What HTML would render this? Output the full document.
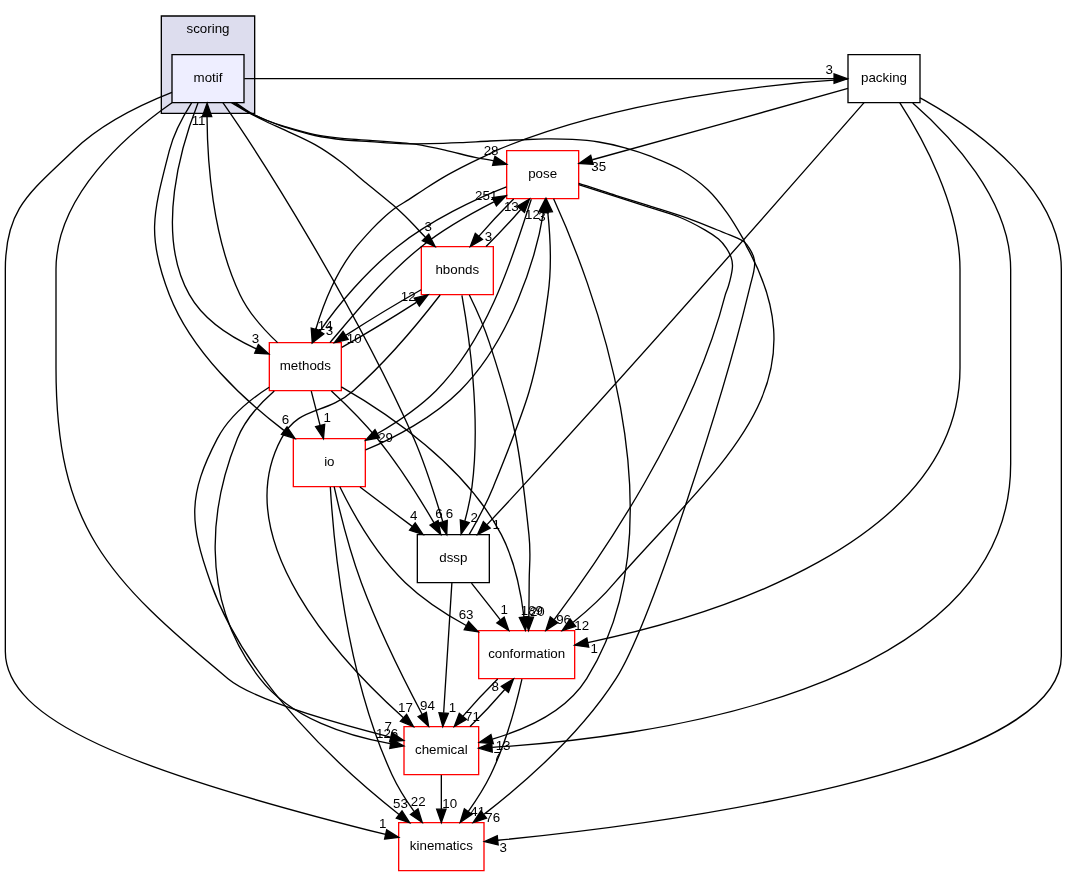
<!DOCTYPE html>
<html><head><meta charset="utf-8"><title>motif</title>
<style>
html,body{margin:0;padding:0;background:#fff;}
svg{display:block;will-change:transform;}
text{font-family:"Liberation Sans",sans-serif;font-size:10px;fill:#000;}
</style></head><body>
<svg width="1067" height="876" viewBox="0 0 800.25 657">
<rect x="0" y="0" width="801" height="658" fill="#fff"/>
<g transform="translate(4 653)">
<polygon fill="#ddddee" stroke="#000" points="117,-568 117,-641 187,-641 187,-568 117,-568"/>
<text text-anchor="middle" x="152" y="-628.2">scoring</text>
<polygon fill="#eeeeff" stroke="black" points="179,-612 125,-612 125,-576 179,-576 179,-612"/>
<text text-anchor="middle" x="152" y="-591.5">motif</text>
<polygon fill="none" stroke="red" points="427,-180 355,-180 355,-144 427,-144 427,-180"/>
<text text-anchor="middle" x="391" y="-159.5">conformation</text>
<path fill="none" stroke="#000" d="M172.62,-576C176.37,-573.47 179.94,-570.63 183.88,-568.4 187.84,-566.16 192.05,-564.38 196.25,-562.62 200.68,-560.78 205.17,-559.03 209.75,-557.6 217.18,-555.28 224.64,-553 232.25,-551.38 239.67,-549.79 247.21,-548.84 254.75,-548 260.97,-547.31 267.25,-547.21 273.5,-546.8 281,-546.31 288.49,-545.56 296,-545.3 303.5,-545.04 311,-545.11 318.5,-545.23 326,-545.34 333.5,-545.64 341,-545.98 348.5,-546.31 356,-546.89 363.5,-547.25 371,-547.61 378.5,-547.87 386,-548.15 392.5,-548.39 399,-548.78 405.5,-548.83 412.13,-548.88 418.76,-548.84 425.38,-548.45 431.95,-548.06 438.53,-547.54 445.03,-546.5 451.67,-545.44 458.26,-543.94 464.75,-542.15 471.35,-540.33 477.88,-538.22 484.25,-535.7 491.95,-532.66 499.76,-529.69 506.9,-525.5 514.04,-521.31 520.81,-516.38 526.85,-510.73 532.45,-505.48 537.07,-499.25 541.55,-493.02 545.94,-486.92 549.64,-480.34 553.4,-473.82 554.46,-471.98 554.96,-469.86 556,-468 614.7,-362.95 536.47,-306.36 457,-216 448,-205.18 436.57,-194.88 425.91,-186.28"/>
<polygon fill="#000" stroke="#000" points="427.76,-183.29 417.67,-180.06 423.54,-188.88 427.76,-183.29"/>
<text text-anchor="middle" x="432.34" y="-180.69">12</text>
<polygon fill="none" stroke="red" points="355,-108 299,-108 299,-72 355,-72 355,-108"/>
<text text-anchor="middle" x="327" y="-87.5">chemical</text>
<path fill="none" stroke="#000" d="M124.98,-575.96C91.27,-552.37 38,-506.33 38,-451 38,-451 38,-451 38,-377 38,-258.63 75.9,-219.57 167,-144 185.74,-128.46 247.72,-110.73 288.8,-100.22"/>
<polygon fill="#000" stroke="#000" points="289.92,-103.55 298.76,-97.71 288.21,-96.76 289.92,-103.55"/>
<text text-anchor="middle" x="287.13" y="-104.68">7</text>
<polygon fill="none" stroke="black" points="686,-612 632,-612 632,-576 686,-576 686,-612"/>
<text text-anchor="middle" x="659" y="-591.5">packing</text>
<path fill="none" stroke="#000" d="M179.23,-594C325.64,-594 472.05,-594 621.95,-594"/>
<polygon fill="#000" stroke="#000" points="621.55,-597.5 631.55,-594 621.55,-590.5 621.55,-597.5"/>
<text text-anchor="middle" x="617.95" y="-597.84">3</text>
<polygon fill="none" stroke="red" points="430,-540 376,-540 376,-504 430,-504 430,-540"/>
<text text-anchor="middle" x="403" y="-519.5">pose</text>
<path fill="none" stroke="#000" d="M171.12,-576C175.12,-573.52 178.97,-570.77 183.12,-568.55 187.11,-566.42 191.29,-564.66 195.5,-563 200.18,-561.16 204.93,-559.49 209.75,-558.05 217.19,-555.83 224.64,-553.58 232.25,-552.05 239.67,-550.55 247.22,-549.77 254.75,-548.98 260.98,-548.32 267.25,-548.14 273.5,-547.7 281,-547.17 288.51,-546.68 296,-546.05 299.76,-545.73 303.53,-545.48 307.25,-544.85 314.79,-543.58 322.28,-541.99 329.75,-540.35 337.28,-538.69 344.72,-536.6 352.25,-534.95 356.91,-533.93 361.72,-533.54 366.33,-532.32"/>
<polygon fill="#000" stroke="#000" points="365.44,-528.94 376,-529.77 367.22,-535.71 365.44,-528.94"/>
<text text-anchor="middle" x="364.3" y="-537.12">28</text>
<polygon fill="none" stroke="black" points="363,-252 309,-252 309,-216 363,-216 363,-252"/>
<text text-anchor="middle" x="336" y="-231.5">dssp</text>
<path fill="none" stroke="#000" d="M163.16,-575.95C192.43,-534.27 262.51,-423.31 306.5,-324 315.32,-303.7 322.7,-279.8 328.05,-261.88"/>
<polygon fill="#000" stroke="#000" points="331.46,-262.68 331.06,-252.09 324.77,-260.61 331.46,-262.68"/>
<text text-anchor="middle" x="333.12" y="-264.45">6</text>
<polygon fill="none" stroke="red" points="366,-468 312,-468 312,-432 366,-432 366,-468"/>
<text text-anchor="middle" x="339" y="-447.5">hbonds</text>
<path fill="none" stroke="#000" d="M169.62,-576C174,-573.44 178.3,-570.75 182.75,-568.33 186.93,-566.04 191.21,-563.94 195.5,-561.88 200.21,-559.61 205.03,-557.59 209.75,-555.35 217.28,-551.79 225,-548.58 232.25,-544.48 238.78,-540.78 244.99,-536.52 251,-532.02 257.81,-526.93 264.09,-521.16 270.65,-515.75 277.21,-510.34 283.95,-505.13 290.38,-499.55 294.9,-495.62 299.24,-491.47 303.5,-487.25 307.51,-483.27 311.1,-478.89 315.15,-474.96"/>
<polygon fill="#000" stroke="#000" points="312.71,-472.45 322.33,-468 317.58,-477.47 312.71,-472.45"/>
<text text-anchor="middle" x="317.23" y="-479.6">3</text>
<polygon fill="none" stroke="red" points="359,-36 295,-36 295,0 359,0 359,-36"/>
<text text-anchor="middle" x="327" y="-15.5">kinematics</text>
<path fill="none" stroke="#000" d="M124.95,-583.69C102.98,-575.07 72.25,-560.47 51,-540 18.17,-508.37 0,-496.59 0,-451 0,-451 0,-451 0,-164.3 0,-113.25 91.97,-75.29 285.25,-27.15"/>
<polygon fill="#000" stroke="#000" points="284.47,-23.74 295,-24.95 286.02,-30.57 284.47,-23.74"/>
<text text-anchor="middle" x="283.02" y="-31.78">1</text>
<polygon fill="none" stroke="red" points="270,-324 216,-324 216,-288 270,-288 270,-324"/>
<text text-anchor="middle" x="243" y="-303.5">io</text>
<path fill="none" stroke="#000" d="M139.69,-575.78C133.35,-565.84 126.27,-552.8 123,-540 111.11,-493.5 105.6,-476.73 123,-432 139.77,-388.88 179.71,-352.45 208.92,-330.24"/>
<polygon fill="#000" stroke="#000" points="211.28,-332.85 217.23,-324.08 207.11,-327.22 211.28,-332.85"/>
<text text-anchor="middle" x="210.08" y="-334.77">6</text>
<polygon fill="none" stroke="red" points="252,-396 198,-396 198,-360 252,-360 252,-396"/>
<text text-anchor="middle" x="225" y="-375.5">methods</text>
<path fill="none" stroke="#000" d="M144.48,-575.68C132.25,-544.65 111.89,-478.48 138,-432 148.77,-412.83 169.6,-399.78 188.18,-391.42"/>
<polygon fill="#000" stroke="#000" points="189.74,-394.56 197.62,-387.48 187.04,-388.1 189.74,-394.56"/>
<text text-anchor="middle" x="187.52" y="-396.07">3</text>
<path fill="none" stroke="#000" d="M369.26,-143.7C360.73,-135.3 351.18,-125.07 343.24,-115.86"/>
<polygon fill="#000" stroke="#000" points="345.85,-113.52 336.74,-108.1 340.48,-118.02 345.85,-113.52"/>
<text text-anchor="middle" x="350.33" y="-111.96">71</text>
<path fill="none" stroke="#000" d="M387.45,-143.67C383.3,-125.28 375.5,-95.68 364,-72 359.42,-62.56 353.24,-52.94 347.26,-44.54"/>
<polygon fill="#000" stroke="#000" points="349.91,-42.25 341.16,-36.28 344.28,-46.4 349.91,-42.25"/>
<text text-anchor="middle" x="354.33" y="-40.95">41</text>
<path fill="none" stroke="#000" d="M348.53,-108.1C357.06,-116.47 366.61,-126.69 374.57,-135.92"/>
<polygon fill="#000" stroke="#000" points="371.99,-138.28 381.1,-143.7 377.35,-133.79 371.99,-138.28"/>
<text text-anchor="middle" x="367.5" y="-134.85">8</text>
<path fill="none" stroke="#000" d="M327,-71.7C327,-63.98 327,-54.71 327,-46.11"/>
<polygon fill="#000" stroke="#000" points="330.5,-46.1 327,-36.1 323.5,-46.1 330.5,-46.1"/>
<text text-anchor="middle" x="333.34" y="-47.2">10</text>
<path fill="none" stroke="#000" d="M670.81,-575.96C687.51,-550.16 716,-499.08 716,-451 716,-451 716,-451 716,-377 716,-244.95 526.53,-189.79 436.92,-171.09"/>
<polygon fill="#000" stroke="#000" points="437.52,-167.64 427.02,-169.09 436.13,-174.5 437.52,-167.64"/>
<text text-anchor="middle" x="441.6" y="-163.07">1</text>
<path fill="none" stroke="#000" d="M680.56,-575.78C708.59,-551.28 754,-503.5 754,-451 754,-451 754,-451 754,-305 754,-131.84 469.86,-98.78 365.15,-92.48"/>
<polygon fill="#000" stroke="#000" points="365.19,-88.98 355.02,-91.92 364.81,-95.97 365.19,-88.98"/>
<text text-anchor="middle" x="368.94" y="-82.54">7</text>
<path fill="none" stroke="#000" d="M632,-586.7C581.89,-572.52 491.25,-547.13 440.24,-533.18"/>
<polygon fill="#000" stroke="#000" points="440.85,-529.72 430.28,-530.46 439.01,-536.47 440.85,-529.72"/>
<text text-anchor="middle" x="445.07" y="-524.53">35</text>
<path fill="none" stroke="#000" d="M644.06,-576C603.43,-529.52 486.83,-396.58 387.68,-288 379.13,-278.63 369.63,-268.45 361.25,-259.53"/>
<polygon fill="#000" stroke="#000" points="363.6,-256.93 354.18,-252.08 358.52,-261.74 363.6,-256.93"/>
<text text-anchor="middle" x="368.13" y="-256.58">1</text>
<path fill="none" stroke="#000" d="M686,-579.56L689.18,-577.86C728.42,-555.78 792,-510.79 792,-451 792,-451 792,-451 792,-161 792,-73.11 484.29,-34.25 369.5,-22.8"/>
<polygon fill="#000" stroke="#000" points="369.62,-19.3 359.33,-21.81 368.94,-26.27 369.62,-19.3"/>
<text text-anchor="middle" x="373.47" y="-14.32">3</text>
<path fill="none" stroke="#000" d="M632,-593.6C574.57,-590.3 459.11,-578.05 369.2,-540.6 364.76,-538.57 360.35,-536.24 356,-534.2 351.25,-531.98 346.55,-529.64 341.9,-527.23 337.18,-524.77 332.47,-522.27 327.88,-519.58 323.09,-516.77 318.44,-513.72 313.77,-510.73 309.99,-508.3 306.3,-505.73 302.52,-503.3 299.28,-501.21 295.82,-499.43 292.7,-497.15 289.26,-494.64 286.03,-491.83 282.88,-488.98 280,-486.38 277.27,-483.63 274.62,-480.8 270.74,-476.64 266.92,-472.4 263.3,-468 248.33,-449.84 238.54,-424.91 232.84,-406.05"/>
<polygon fill="#000" stroke="#000" points="236.18,-405.01 230.17,-396.28 229.43,-406.85 236.18,-405.01"/>
<text text-anchor="middle" x="239.87" y="-405.23">14</text>
<path fill="none" stroke="#000" d="M430,-514.48C438.57,-511.68 447.17,-508.97 455.75,-506.23 464.67,-503.37 473.61,-500.57 482.53,-497.68 490.41,-495.12 498.46,-492.99 506.15,-489.88 512.52,-487.3 518.61,-484.03 524.6,-480.65 528.21,-478.62 531.72,-476.36 534.88,-473.68 537.19,-471.7 539.15,-469.29 540.88,-466.77 542.32,-464.68 543.48,-462.36 544.33,-459.95 545,-458.03 545.38,-455.98 545.38,-453.95 545.38,-451.35 544.83,-448.77 544.33,-446.23 543.78,-443.49 543.04,-440.79 542.22,-438.12 541.59,-436.05 540.54,-434.1 540,-432 514.99,-334.15 445.92,-233.93 411.62,-188.34"/>
<polygon fill="#000" stroke="#000" points="414.28,-186.05 405.42,-180.22 408.71,-190.29 414.28,-186.05"/>
<text text-anchor="middle" x="418.71" y="-184.68">96</text>
<path fill="none" stroke="#000" d="M411.21,-503.91C437.07,-447.41 510.75,-263.47 436,-144 420.6,-119.39 390.13,-105.91 365.32,-98.71"/>
<polygon fill="#000" stroke="#000" points="366,-95.27 355.43,-96.08 364.2,-102.04 366,-95.27"/>
<text text-anchor="middle" x="373.3" y="-90.15">13</text>
<path fill="none" stroke="#000" d="M381.26,-503.7C372.73,-495.3 363.18,-485.07 355.24,-475.86"/>
<polygon fill="#000" stroke="#000" points="357.85,-473.52 348.74,-468.1 352.48,-478.02 357.85,-473.52"/>
<text text-anchor="middle" x="362.33" y="-471.96">3</text>
<path fill="none" stroke="#000" d="M430,-515.52C438.61,-512.82 447.15,-509.88 455.75,-507.12 464.66,-504.28 473.61,-501.57 482.53,-498.73 492.36,-495.59 502.27,-492.64 512,-489.2 519.45,-486.57 526.71,-483.42 534.05,-480.5 538.63,-478.67 543.26,-476.94 547.78,-474.95 549.84,-474.04 552.01,-473.21 553.78,-471.8 555.5,-470.43 556.84,-468.61 558.05,-466.77 559.28,-464.91 560.32,-462.89 561.05,-460.77 561.66,-459.02 562,-457.15 562.03,-455.3 562.05,-453.13 561.62,-450.98 561.2,-448.85 560.62,-445.94 559.74,-443.1 559.03,-440.23 558.34,-437.49 557.66,-434.75 557,-432 538.98,-356.91 483.68,-183.99 458,-144 431.49,-102.71 388.61,-65.3 359.17,-42.39"/>
<polygon fill="#000" stroke="#000" points="360.94,-39.34 350.88,-36.04 356.69,-44.9 360.94,-39.34"/>
<text text-anchor="middle" x="365.52" y="-36.77">76</text>
<path fill="none" stroke="#000" d="M394.48,-503.62C383.69,-471.29 364.5,-401.45 323,-360 310.25,-347.27 293.85,-336.38 279.14,-327.85"/>
<polygon fill="#000" stroke="#000" points="280.68,-324.7 270.25,-322.84 277.25,-330.8 280.68,-324.7"/>
<text text-anchor="middle" x="285.21" y="-321.49">29</text>
<path fill="none" stroke="#000" d="M375.83,-512.8C352.38,-503.73 318.96,-487.75 294,-468 270.77,-449.62 248.97,-423.72 235.96,-404.59"/>
<polygon fill="#000" stroke="#000" points="238.83,-402.58 230.47,-396.07 232.94,-406.37 238.83,-402.58"/>
<text text-anchor="middle" x="243.16" y="-401.57">3</text>
<path fill="none" stroke="#000" d="M349.6,-215.7C356.12,-207.39 364.07,-197.28 371.25,-188.14"/>
<polygon fill="#000" stroke="#000" points="374.13,-190.13 377.56,-180.1 368.63,-185.81 374.13,-190.13"/>
<text text-anchor="middle" x="374.15" y="-192.21">1</text>
<path fill="none" stroke="#000" d="M334.91,-215.87C333.38,-191.67 330.56,-147.21 328.74,-118.39"/>
<polygon fill="#000" stroke="#000" points="332.22,-117.95 328.09,-108.19 325.23,-118.39 332.22,-117.95"/>
<text text-anchor="middle" x="335.28" y="-118.86">1</text>
<path fill="none" stroke="#000" d="M347.95,-252.2C353.85,-262.34 361,-275.59 366.04,-288 391.08,-349.6 398.05,-366 407,-432 409.93,-452.54 408.69,-476 406.85,-493.67"/>
<polygon fill="#000" stroke="#000" points="403.35,-493.51 405.66,-503.85 410.3,-494.32 403.35,-493.51"/>
<text text-anchor="middle" x="402.44" y="-487.61">3</text>
<path fill="none" stroke="#000" d="M348.02,-431.73C353.03,-421.55 359.03,-408.3 363,-396 383.34,-333.87 385.9,-316.96 392.7,-252 394.37,-236.08 392.95,-232 392.88,-216 392.84,-207.68 392.73,-198.63 392.62,-190.4"/>
<polygon fill="#000" stroke="#000" points="396.11,-190.11 392.41,-180.18 389.11,-190.25 396.11,-190.11"/>
<text text-anchor="middle" x="399.02" y="-191.15">20</text>
<path fill="none" stroke="#000" d="M326.1,-431.73C311.53,-412.86 286.5,-382.34 261,-360 239.31,-340.99 220.61,-349.43 207,-324 166.41,-248.15 251.22,-157.25 298.35,-114.9"/>
<polygon fill="#000" stroke="#000" points="300.94,-117.29 306.12,-108.05 296.31,-112.04 300.94,-117.29"/>
<text text-anchor="middle" x="300.12" y="-119.3">17</text>
<path fill="none" stroke="#000" d="M360.53,-468.1C369.06,-476.47 378.61,-486.69 386.57,-495.92"/>
<polygon fill="#000" stroke="#000" points="383.99,-498.28 393.1,-503.7 389.35,-493.79 383.99,-498.28"/>
<text text-anchor="middle" x="379.5" y="-494.85">13</text>
<path fill="none" stroke="#000" d="M342.44,-431.54C347.77,-401.91 356.75,-339.95 350,-288 348.9,-279.51 346.84,-270.43 344.63,-262.24"/>
<polygon fill="#000" stroke="#000" points="347.95,-261.09 341.82,-252.44 341.22,-263.02 347.95,-261.09"/>
<text text-anchor="middle" x="351.67" y="-261.26">2</text>
<path fill="none" stroke="#000" d="M311.85,-435.67C294.88,-426.08 273.11,-412.9 255.56,-401.67"/>
<polygon fill="#000" stroke="#000" points="257.1,-398.5 246.81,-396 253.3,-404.38 257.1,-398.5"/>
<text text-anchor="middle" x="261.66" y="-395.57">10</text>
<path fill="none" stroke="#000" d="M250.86,-287.9C260.36,-268.62 277.88,-237.2 300,-216 313.24,-203.31 330.08,-192.43 345.66,-183.88"/>
<polygon fill="#000" stroke="#000" points="347.45,-186.9 354.65,-179.13 344.17,-180.71 347.45,-186.9"/>
<text text-anchor="middle" x="345.6" y="-188.59">63</text>
<path fill="none" stroke="#000" d="M246.61,-287.98C250.67,-269.85 257.92,-240.45 267,-216 280.07,-180.78 299.51,-142.05 312.69,-117.17"/>
<polygon fill="#000" stroke="#000" points="315.77,-118.82 317.4,-108.36 309.6,-115.52 315.77,-118.82"/>
<text text-anchor="middle" x="316.58" y="-120.83">94</text>
<path fill="none" stroke="#000" d="M270.19,-315.53C291.71,-324.44 320.9,-339.92 341,-360 378.61,-397.56 397.89,-458.44 403.56,-493.59"/>
<polygon fill="#000" stroke="#000" points="400.11,-494.16 404.89,-503.62 407.05,-493.24 400.11,-494.16"/>
<text text-anchor="middle" x="395.32" y="-488.47">12</text>
<path fill="none" stroke="#000" d="M265.99,-287.7C277.81,-278.8 292.39,-267.82 305.18,-258.2"/>
<polygon fill="#000" stroke="#000" points="307.39,-260.91 313.28,-252.1 303.18,-255.32 307.39,-260.91"/>
<text text-anchor="middle" x="306.23" y="-262.84">4</text>
<path fill="none" stroke="#000" d="M243.75,-287.78C246.05,-247.98 255.14,-147.26 290,-72 294.41,-62.48 300.54,-52.84 306.53,-44.44"/>
<polygon fill="#000" stroke="#000" points="309.51,-46.31 312.66,-36.2 303.89,-42.13 309.51,-46.31"/>
<text text-anchor="middle" x="309.64" y="-48.39">22</text>
<path fill="none" stroke="#000" d="M204.21,-396.03C194.05,-405.53 182.61,-418.21 176,-432 155.25,-475.27 151.47,-531.97 151.27,-565.25"/>
<polygon fill="#000" stroke="#000" points="147.78,-565.6 151.33,-575.59 154.78,-565.57 147.78,-565.6"/>
<text text-anchor="middle" x="144.92" y="-559.52">11</text>
<path fill="none" stroke="#000" d="M252,-362.83C286.51,-343.1 345.01,-303.85 372,-252 382,-232.79 386.74,-208.63 388.98,-190.33"/>
<polygon fill="#000" stroke="#000" points="392.47,-190.63 390.04,-180.32 385.51,-189.89 392.47,-190.63"/>
<text text-anchor="middle" x="394.92" y="-192">189</text>
<path fill="none" stroke="#000" d="M201.7,-359.82C191.1,-350.54 179.68,-338.09 174,-324 155.8,-278.83 142.22,-207.07 191,-144 214.33,-113.84 257.23,-100.82 288.63,-95.22"/>
<polygon fill="#000" stroke="#000" points="289.47,-98.63 298.79,-93.59 288.36,-91.71 289.47,-98.63"/>
<text text-anchor="middle" x="286.37" y="-99.5">126</text>
<path fill="none" stroke="#000" d="M243.47,-396.07C260.1,-415.32 285.09,-446.71 312,-468 328.64,-481.17 349.04,-492.66 366.39,-501.54"/>
<polygon fill="#000" stroke="#000" points="365.16,-504.84 375.67,-506.2 368.3,-498.59 365.16,-504.84"/>
<text text-anchor="middle" x="360.68" y="-503.26">251</text>
<path fill="none" stroke="#000" d="M244.56,-359.82C255.32,-349.89 268.56,-336.85 279,-324 295.23,-304.02 310.79,-279.21 321.54,-260.86"/>
<polygon fill="#000" stroke="#000" points="324.59,-262.58 326.56,-252.17 318.53,-259.08 324.59,-262.58"/>
<text text-anchor="middle" x="325.25" y="-264.61">6</text>
<path fill="none" stroke="#000" d="M252.34,-392.44C269.24,-402 290.84,-415.07 308.3,-426.24"/>
<polygon fill="#000" stroke="#000" points="306.71,-429.38 317.01,-431.88 310.52,-423.5 306.71,-429.38"/>
<text text-anchor="middle" x="302.15" y="-427.31">12</text>
<path fill="none" stroke="#000" d="M197.86,-362.57C183.7,-353.5 167.58,-340.41 159,-324 136.74,-281.42 137.83,-261.25 154,-216 181.07,-140.25 253.21,-75.21 295.29,-42.19"/>
<polygon fill="#000" stroke="#000" points="297.51,-44.9 303.28,-36.01 293.23,-39.35 297.51,-44.9"/>
<text text-anchor="middle" x="296.4" y="-46.84">53</text>
<path fill="none" stroke="#000" d="M229.45,-359.7C231.45,-351.9 233.87,-342.51 236.1,-333.83"/>
<polygon fill="#000" stroke="#000" points="239.5,-334.66 238.6,-324.1 232.72,-332.92 239.5,-334.66"/>
<text text-anchor="middle" x="241.36" y="-336.35">1</text>
</g>
</svg>
</body></html>
